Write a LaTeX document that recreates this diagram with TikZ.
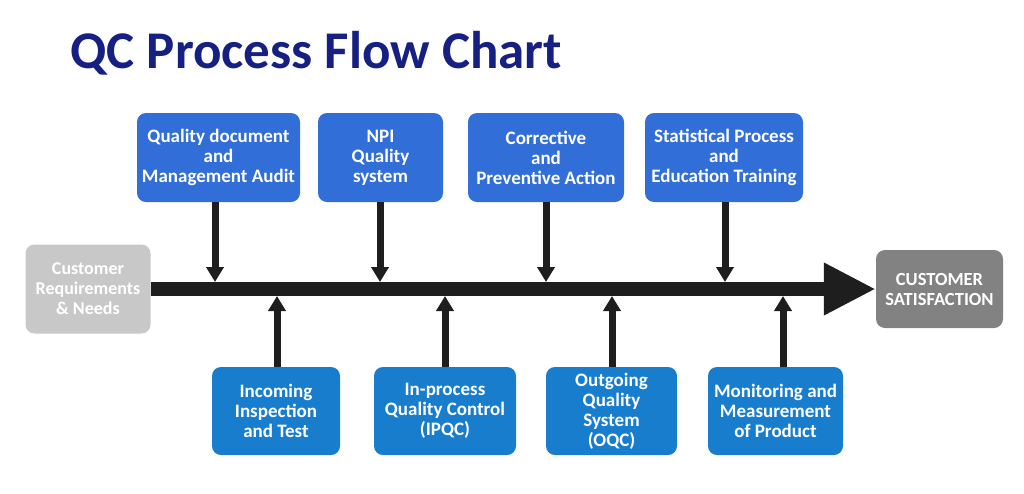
\documentclass[tikz,border=0pt]{standalone}
\usepackage{fontspec}
\setmainfont{Carlito}
\usetikzlibrary{arrows.meta}
\definecolor{titleblue}{RGB}{22,32,130}
\definecolor{topblue}{RGB}{50,110,215}
\definecolor{lowblue}{RGB}{25,125,205}
\definecolor{lightgrey}{RGB}{200,200,200}
\definecolor{darkgrey}{RGB}{130,130,130}
\definecolor{barblack}{RGB}{30,30,30}
\begin{document}
\begin{tikzpicture}[x=1pt,y=-1pt,
  box/.style={rounded corners=9pt, text=white, align=center, inner sep=0pt,
    font=\fontsize{19}{20}\selectfont\bfseries},
  upbox/.style={box, fill=topblue, minimum height=89pt},
  lowbox/.style={box, fill=lowblue, minimum height=88pt},
  feed/.style={line width=7pt, draw=barblack, -{Triangle[width=17pt,length=15pt]}}]
            \useasboundingbox (0,0) rectangle (1024,493);
            \node[anchor=base west, text=titleblue, font=\fontsize{53}{53}\selectfont\bfseries] (title) at (67,68) {QC Process Flow Chart};
            % start and end of the line
            \node[box, fill=lightgrey, minimum width=125pt, minimum height=89pt, font=\fontsize{18}{20}\selectfont\bfseries] (need) at (88,289) {Customer\\Requirements\\\& Needs};
            \node[box, fill=darkgrey, minimum width=127pt, minimum height=78pt, font=\fontsize{18.5}{20}\selectfont\bfseries] (sat) at (939.5,289) {CUSTOMER\\SATISFACTION};
            \draw[line width=14pt, draw=barblack, -{Triangle[width=49pt,length=52pt]}] (need.east) -- (sat.west);
            % upper boxes
            \node[upbox, minimum width=163pt] (audit) at (218.5,157.5) {Quality document\\and\\Management Audit};
            \node[upbox, minimum width=125pt] (npi) at (380.5,157.5) {NPI\\Quality\\system};
            \node[upbox, minimum width=156pt] (capa) at (546,157.5) {Corrective\\and\\Preventive Action};
            \node[upbox, minimum width=158pt] (spc) at (724,157.5) {Statistical Process\\and\\Education Training};
            % lower boxes
            \node[lowbox, minimum width=128pt] (iqc) at (276,411) {Incoming\\Inspection\\and Test};
            \node[lowbox, minimum width=142pt] (ipqc) at (445,411) {In-process\\Quality Control\\(IPQC)};
            \node[lowbox, minimum width=131pt] (oqc) at (611.5,411) {Outgoing\\Quality\\System\\(OQC)};
            \node[lowbox, minimum width=135pt] (mmp) at (775.5,411) {Monitoring and\\Measurement\\of Product};
            % feeds into the line
            \coordinate (t1) at (215,282);
            \coordinate (t2) at (380,282);
            \coordinate (t3) at (546,282);
            \coordinate (t4) at (725,282);
            \coordinate (b1) at (277,296);
            \coordinate (b2) at (445,296);
            \coordinate (b3) at (612,296);
            \coordinate (b4) at (783,296);
            \draw[feed] (t1 |- audit.south) -- (t1);
            \draw[feed] (t2 |- npi.south) -- (t2);
            \draw[feed] (t3 |- capa.south) -- (t3);
            \draw[feed] (t4 |- spc.south) -- (t4);
            \draw[feed] (b1 |- iqc.north) -- (b1);
            \draw[feed] (b2 |- ipqc.north) -- (b2);
            \draw[feed] (b3 |- oqc.north) -- (b3);
            \draw[feed] (b4 |- mmp.north) -- (b4);
\end{tikzpicture}
\end{document}
